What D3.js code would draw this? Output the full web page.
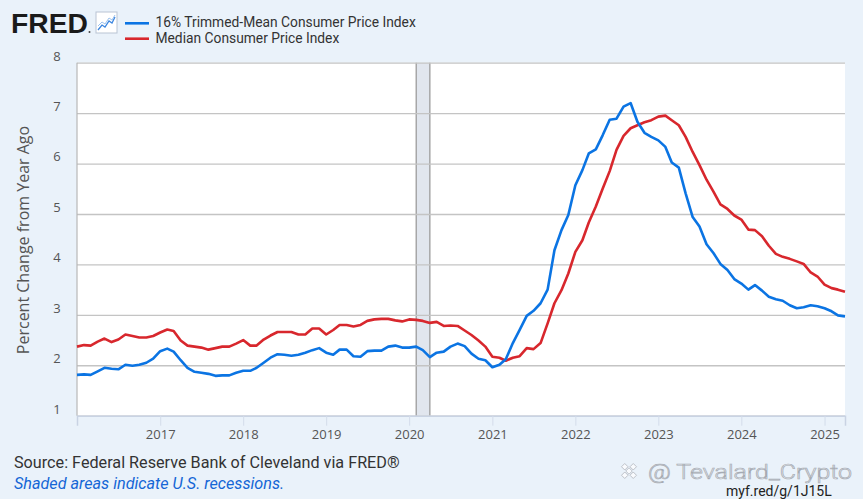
<!DOCTYPE html>
<html>
<head>
<meta charset="utf-8">
<script src="https://cdn.jsdelivr.net/npm/d3@7"></script>
<style>
  html, body { margin: 0; padding: 0; background: #eaf2fa; }
  svg { display: block; }
</style>
</head>
<body>
<svg></svg>
<script>
const width = 863;
const height = 499;

// monthly observations, Jan 2016 .. Apr 2025
const firstMonth = "2016-01-01";

const trimmedMean = [
  1.81, 1.82, 1.81, 1.88, 1.95, 1.93, 1.92, 2.01, 1.99, 2.01, 2.05, 2.13,
  2.28, 2.33, 2.27, 2.10, 1.95, 1.87, 1.85, 1.83, 1.79, 1.80, 1.80, 1.85,
  1.89, 1.89, 1.95, 2.05, 2.15, 2.22, 2.21, 2.19, 2.21, 2.25, 2.30, 2.34,
  2.25, 2.21, 2.31, 2.31, 2.18, 2.17, 2.28, 2.29, 2.29, 2.37, 2.39, 2.35,
  2.35, 2.37, 2.30, 2.16, 2.25, 2.27, 2.37, 2.43, 2.38, 2.23, 2.13, 2.10,
  1.96, 2.01, 2.12, 2.44, 2.70, 2.98, 3.08, 3.23, 3.50, 4.28, 4.68, 4.98,
  5.57, 5.87, 6.20, 6.28, 6.56, 6.87, 6.89, 7.13, 7.20, 6.83, 6.61, 6.53,
  6.46, 6.33, 6.02, 5.92, 5.41, 4.94, 4.75, 4.40, 4.22, 4.01, 3.89, 3.71,
  3.62, 3.50, 3.59, 3.48, 3.36, 3.31, 3.28, 3.19, 3.13, 3.15, 3.19, 3.17,
  3.13, 3.07, 2.99, 2.97
];

const medianCpi = [
  2.37, 2.40, 2.39, 2.47, 2.53, 2.46, 2.51, 2.61, 2.58, 2.55, 2.55, 2.58,
  2.65, 2.71, 2.68, 2.49, 2.39, 2.37, 2.35, 2.31, 2.34, 2.37, 2.37, 2.43,
  2.50, 2.39, 2.39, 2.51, 2.59, 2.66, 2.66, 2.66, 2.61, 2.61, 2.73, 2.73,
  2.61, 2.70, 2.80, 2.80, 2.77, 2.80, 2.88, 2.91, 2.92, 2.92, 2.89, 2.87,
  2.91, 2.90, 2.88, 2.84, 2.86, 2.78, 2.79, 2.78, 2.69, 2.60, 2.49, 2.37,
  2.17, 2.15, 2.09, 2.15, 2.18, 2.34, 2.32, 2.44, 2.83, 3.23, 3.49, 3.82,
  4.25, 4.48, 4.83, 5.15, 5.50, 5.85, 6.27, 6.55, 6.70, 6.76, 6.82, 6.86,
  6.93, 6.95, 6.86, 6.76, 6.53, 6.23, 5.97, 5.68, 5.44, 5.19, 5.10, 4.97,
  4.89, 4.69, 4.68, 4.56, 4.37, 4.21, 4.15, 4.11, 4.06, 4.01, 3.84, 3.76,
  3.60, 3.53, 3.50, 3.46
];

const seriesNames = ["16% Trimmed-Mean Consumer Price Index", "Median Consumer Price Index"];
const seriesColors = ["#0b74e3", "#d8272d"];

const recessions = [["2020-02-01", "2020-04-01"]];

const yTicks = [1, 2, 3, 4, 5, 6, 7, 8];
const xTickYears = [2017, 2018, 2019, 2020, 2021, 2022, 2023, 2024, 2025];

const yTitle = "Percent Change from Year Ago";
const sourceText = "Source: Federal Reserve Bank of Cleveland via FRED\u00AE";
const noteText = "Shaded areas indicate U.S. recessions.";
const linkText = "myf.red/g/1J15L";
const watermarkText = "@ Tevalard_Crypto";

// plot box
const plot = { left: 77, right: 845, top: 62.7, bottom: 415.7 };

const start = new Date(firstMonth);
const dates = trimmedMean.map((_, i) => d3.utcMonth.offset(start, i));

const x = d3.scaleUtc()
  .domain([start, dates[dates.length - 1]])
  .range([plot.left, plot.right]);

const y = d3.scaleLinear()
  .domain([1, 8])
  .range([plot.bottom, plot.top]);

const svg = d3.select("svg").attr("width", width).attr("height", height);

svg.append("rect")
  .attr("width", width).attr("height", height)
  .attr("fill", "#eaf2fa");

// plot background
svg.append("rect")
  .attr("x", plot.left).attr("y", plot.top)
  .attr("width", plot.right - plot.left).attr("height", plot.bottom - plot.top)
  .attr("fill", "#fff");

// recession shading
const rec = svg.append("g");
recessions.forEach(([a, b]) => {
  const x0 = x(new Date(a));
  const x1 = x(new Date(b));
  rec.append("rect")
    .attr("x", x0).attr("y", plot.top)
    .attr("width", x1 - x0).attr("height", plot.bottom - plot.top)
    .attr("fill", "#e1e6ee");
  [x0, x1].forEach((xx) => {
    rec.append("line")
      .attr("x1", xx).attr("x2", xx)
      .attr("y1", plot.top).attr("y2", plot.bottom)
      .attr("stroke", "#9c9c9c").attr("stroke-width", 1.3);
  });
});

// y gridlines and labels
const yAxis = svg.append("g")
  .attr("transform", `translate(${plot.left},0)`)
  .call(d3.axisLeft(y)
    .tickValues(yTicks)
    .tickFormat(d3.format("d"))
    .tickSize(-(plot.right - plot.left))
    .tickPadding(0));
yAxis.select(".domain").remove();
yAxis.selectAll(".tick line")
  .attr("stroke", "#c4c4c4").attr("stroke-width", 1.3);
yAxis.selectAll(".tick text")
  .attr("x", -20).attr("dy", "-0.2em")
  .attr("text-anchor", "middle")
  .attr("fill", "#555")
  .style("font-family", "'Open Sans', sans-serif")
  .style("font-size", "13px");

// left axis line
svg.append("line")
  .attr("x1", plot.left).attr("x2", plot.left)
  .attr("y1", plot.top).attr("y2", plot.bottom)
  .attr("stroke", "#b8b8b8").attr("stroke-width", 1.2);

// x axis
const xAxis = svg.append("g")
  .attr("transform", `translate(0,${plot.bottom})`)
  .call(d3.axisBottom(x)
    .tickValues(xTickYears.map((yr) => new Date(Date.UTC(yr, 0, 1))))
    .tickFormat(d3.utcFormat("%Y"))
    .tickSize(10).tickPadding(4));
xAxis.select(".domain")
  .attr("stroke", "#c9d3e3").attr("stroke-width", 1.5);
xAxis.selectAll(".tick line")
  .attr("stroke", "#d3dcea").attr("stroke-width", 1);
xAxis.selectAll(".tick text")
  .attr("fill", "#555")
  .style("font-family", "'Open Sans', sans-serif")
  .style("font-size", "13px");

// lines
const line = d3.line()
  .x((d, i) => x(dates[i]))
  .y((d) => y(d));

svg.append("g")
  .selectAll("path")
  .data([medianCpi, trimmedMean])
  .join("path")
  .attr("d", (d) => line(d))
  .attr("fill", "none")
  .attr("stroke", (d, i) => (i === 0 ? seriesColors[1] : seriesColors[0]))
  .attr("stroke-width", 2.6)
  .attr("stroke-linejoin", "round");

// y title
svg.append("text")
  .attr("transform", "translate(29,240) rotate(-90)")
  .attr("text-anchor", "middle")
  .attr("fill", "#555")
  .style("font-family", "'Open Sans', sans-serif")
  .style("font-size", "16px")
  .text(yTitle);

// FRED logo
svg.append("text")
  .attr("x", 11).attr("y", 33.3)
  .attr("textLength", 77).attr("lengthAdjust", "spacingAndGlyphs")
  .attr("fill", "#1a1a1a")
  .style("font-family", "'Liberation Sans', Arial, sans-serif")
  .style("font-weight", "900")
  .style("font-size", "28px")
  .text("FRED");
svg.append("circle").attr("cx", 89.5).attr("cy", 32).attr("r", 1).attr("fill", "#444");

const icon = svg.append("g").attr("transform", "translate(96,12)");
icon.append("rect")
  .attr("width", 21).attr("height", 21)
  .attr("fill", "#fff").attr("stroke", "#b9c4d3").attr("stroke-width", 1);
icon.append("polyline")
  .attr("points", "2,18 6,13 9,15 13,9 16,11 19,5")
  .attr("fill", "none").attr("stroke", "#3b86e0").attr("stroke-width", 1.3);
icon.append("polyline")
  .attr("points", "2,14 6,10 9,12 13,6 16,8 19,3")
  .attr("fill", "none").attr("stroke", "#9cc2ee").attr("stroke-width", 1);

// legend
const legend = svg.append("g")
  .selectAll("g")
  .data(seriesNames)
  .join("g")
  .attr("transform", (d, i) => `translate(0,${i * 15.4})`);
legend.append("line")
  .attr("x1", 125).attr("x2", 149)
  .attr("y1", 23.3).attr("y2", 23.3)
  .attr("stroke", (d, i) => seriesColors[i])
  .attr("stroke-width", 2.6);
legend.append("text")
  .attr("x", 155.5).attr("y", 27.3)
  .attr("fill", "#333")
  .style("font-family", "Roboto, sans-serif")
  .style("font-size", "13.8px")
  .text((d) => d);

// footer
svg.append("text")
  .attr("x", 14).attr("y", 468.3)
  .attr("fill", "#333")
  .style("font-family", "Roboto, sans-serif")
  .style("font-size", "16.2px")
  .text(sourceText);
svg.append("text")
  .attr("x", 14).attr("y", 489.3)
  .attr("fill", "#1466d6")
  .style("font-family", "Roboto, sans-serif")
  .style("font-style", "italic")
  .style("font-size", "16.2px")
  .text(noteText);

svg.append("text")
  .attr("x", 726).attr("y", 496)
  .attr("fill", "#222")
  .style("font-family", "Roboto, sans-serif")
  .style("font-size", "14px")
  .text(linkText);

// watermark
const wm = svg.append("g");
const dia = wm.append("g").attr("transform", "translate(629,471) rotate(45)");
[[0, 0], [-6, 0], [6, 0], [0, -6], [0, 6]].forEach(([dx, dy]) => {
  dia.append("rect")
    .attr("x", dx - 2.3).attr("y", dy - 2.3)
    .attr("width", 4.6).attr("height", 4.6)
    .attr("fill", "#f9fbfe").attr("stroke", "#b3b7be").attr("stroke-width", 0.8);
});
wm.append("text")
  .attr("x", 648).attr("y", 479)
  .attr("textLength", 204).attr("lengthAdjust", "spacingAndGlyphs")
  .attr("fill", "#f9fbfe")
  .attr("stroke", "#a6abb3").attr("stroke-width", 0.7)
  .style("font-family", "Roboto, sans-serif")
  .style("font-weight", "300")
  .style("font-size", "21px")
  .text(watermarkText);
</script>
</body>
</html>
